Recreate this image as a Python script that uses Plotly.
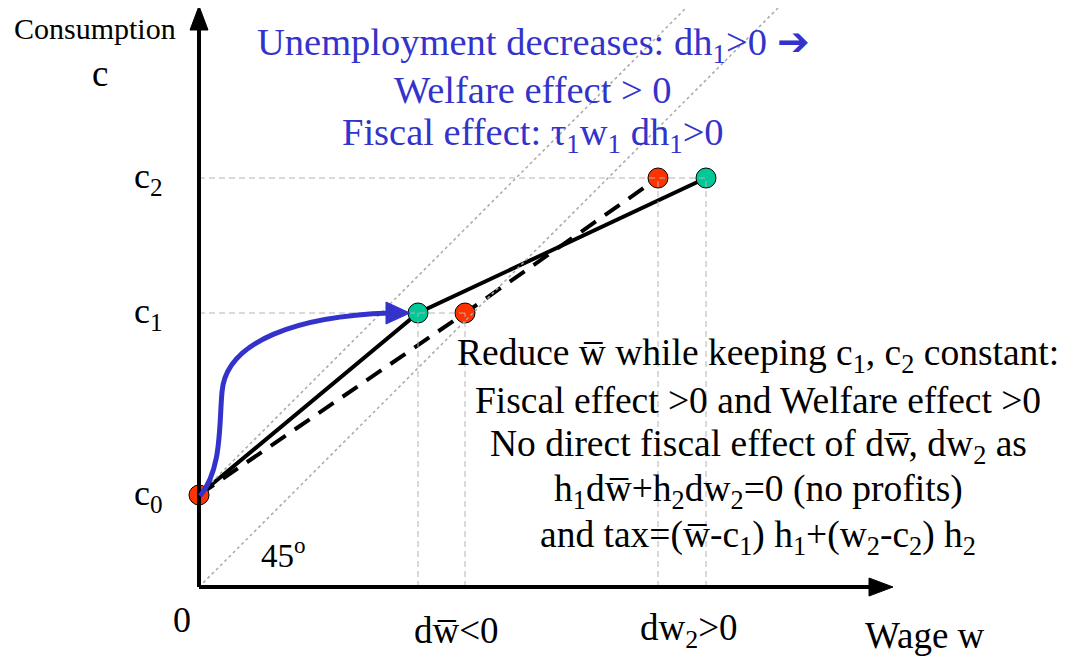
import plotly.graph_objects as go

# ---------------- data (model units: wage w, consumption c) ----------------
c_levels = [0.92, 2.74, 4.09]            # c0, c1, c2
w_solid = [0.0, 2.19, 5.07]              # original schedule: 0, w-bar, w2
w_dashed = [0.0, 2.66, 4.59]             # new schedule after reform
c_tick_labels = ["c<sub>0</sub>", "c<sub>1</sub>", "c<sub>2</sub>"]
w_tick_labels = ["dw\u0305&lt;0", "dw<sub>2</sub>&gt;0"]
solid_colors = ["#FF3300", "#00C896", "#00C896"]
dashed_colors = ["#FF3300", "#FF3300", "#FF3300"]

blue_lines = [
    "Unemployment decreases: dh<sub>1</sub>&gt;0 \u2794",
    "Welfare effect &gt; 0",
    "Fiscal effect: \u03c4<sub>1</sub>w<sub>1</sub> dh<sub>1</sub>&gt;0",
]
black_lines = [
    "Reduce w\u0305 while keeping c<sub>1</sub>, c<sub>2</sub> constant:",
    "Fiscal effect &gt;0 and Welfare effect &gt;0",
    "No direct fiscal effect of dw\u0305, dw<sub>2</sub> as",
    "h<sub>1</sub>dw\u0305+h<sub>2</sub>dw<sub>2</sub>=0 (no profits)",
    "and tax=(w\u0305-c<sub>1</sub>) h<sub>1</sub>+(w<sub>2</sub>-c<sub>2</sub>) h<sub>2</sub>",
]

# ---------------- layout helpers (screen pixel -> axis units) ----------------
OFF = 8                      # page body margin
X0, Y0, S = 199, 587, 100.0  # screen position of the origin, px per unit
XR = [(0 + OFF - X0) / S, (1070 + OFF - X0) / S]
YR = [(Y0 - 660 - OFF) / S, (Y0 - OFF) / S]


def px(x):
    return (x - X0) / S


def py(y):
    return (Y0 - y) / S


FONT = "Liberation Serif, Times New Roman, serif"
BLUE = "#3333CC"
GREY = "#B4B4B4"

fig = go.Figure()
shapes = []
ann = []

# 45 degree dotted lines
top = YR[1]
shapes.append(dict(type="line", x0=0, y0=0, x1=top, y1=top,
                   line=dict(color="#A8A8A8", width=1.5, dash="dot")))
shapes.append(dict(type="line", x0=0, y0=c_levels[0], x1=top - c_levels[0], y1=top,
                   line=dict(color="#A8A8A8", width=1.5, dash="dot")))

# grey dashed guide lines
for wl, cl in [(w_solid[1], c_levels[1]), (w_dashed[1], c_levels[1]),
               (w_dashed[2], c_levels[2]), (w_solid[2], c_levels[2])]:
    shapes.append(dict(type="line", x0=wl, y0=0, x1=wl, y1=cl,
                       line=dict(color=GREY, width=1, dash="6px,4px")))
for wmax, cl in [(w_dashed[1], c_levels[1]), (w_solid[2], c_levels[2])]:
    shapes.append(dict(type="line", x0=0, y0=cl, x1=wmax, y1=cl,
                       line=dict(color=GREY, width=1, dash="6px,4px")))

# axes with arrowheads
shapes.append(dict(type="line", x0=0, y0=0, x1=0, y1=py(24), line=dict(color="black", width=4)))
shapes.append(dict(type="line", x0=0, y0=0, x1=px(874), y1=0, line=dict(color="black", width=4)))
shapes.append(dict(type="path",
                   path=f"M {px(199)},{py(6)} L {px(190)},{py(30)} L {px(208)},{py(30)} Z",
                   fillcolor="black", line=dict(color="black", width=1)))
shapes.append(dict(type="path",
                   path=f"M {px(893)},{py(587)} L {px(869)},{py(578)} L {px(869)},{py(596)} Z",
                   fillcolor="black", line=dict(color="black", width=1)))

# blue curved arrow
shapes.append(dict(type="path",
                   path=(f"M {px(200)},{py(496)} C {px(222)},{py(470)} {px(219)},{py(425)} {px(222)},{py(392)} "
                         f"C {px(226)},{py(340)} {px(300)},{py(316)} {px(390)},{py(313)}"),
                   line=dict(color=BLUE, width=5)))
shapes.append(dict(type="path",
                   path=f"M {px(410)},{py(313)} L {px(386)},{py(302)} L {px(386)},{py(324)} Z",
                   fillcolor=BLUE, line=dict(color=BLUE, width=1)))

# schedules
fig.add_trace(go.Scatter(x=w_dashed, y=c_levels, mode="lines",
                         line=dict(color="black", width=4, dash="18px,11px"),
                         hoverinfo="skip", showlegend=False))
fig.add_trace(go.Scatter(x=w_solid, y=c_levels, mode="lines",
                         line=dict(color="black", width=4),
                         hoverinfo="skip", showlegend=False))
fig.add_trace(go.Scatter(x=w_dashed, y=c_levels, mode="markers",
                         marker=dict(size=20, color=dashed_colors, line=dict(color="black", width=1)),
                         hoverinfo="skip", showlegend=False))
fig.add_trace(go.Scatter(x=w_solid[1:], y=c_levels[1:], mode="markers",
                         marker=dict(size=20, color=solid_colors[1:], line=dict(color="black", width=1)),
                         hoverinfo="skip", showlegend=False))


def text(x, y, s, size, color="black"):
    ann.append(dict(x=x, y=y, xref="x", yref="y", text=s, showarrow=False,
                    xanchor="center", yanchor="middle",
                    font=dict(family=FONT, size=size, color=color)))


# axis labels
text(px(95), py(28), "Consumption", 30)
text(px(100), py(73), "c", 37)
for cl, lab in zip(c_levels, c_tick_labels):
    text(px(148), cl, lab, 36)
text(px(182), py(620), "0", 36)
text(w_solid[1] + 0.38, py(630), w_tick_labels[0], 37)
text(w_solid[2] - 0.17, py(630), w_tick_labels[1], 37)
text(px(925), py(635), "Wage w", 37)
text(px(283), py(553), "45<sup>o</sup>", 33)

# blue text
for i, s in enumerate(blue_lines):
    text(px(533), py(45 + 45 * i), s, 38.5, BLUE)
# black text
for i, s in enumerate(black_lines):
    text(px(758), py(355 + 45.5 * i), s, 37.5)

fig.update_layout(
    width=1070, height=660,
    margin=dict(l=0, r=0, t=0, b=0),
    paper_bgcolor="white", plot_bgcolor="white",
    xaxis=dict(range=XR, visible=False, fixedrange=True),
    yaxis=dict(range=YR, visible=False, fixedrange=True),
    shapes=shapes, annotations=ann,
)
fig.write_html("out.html")
